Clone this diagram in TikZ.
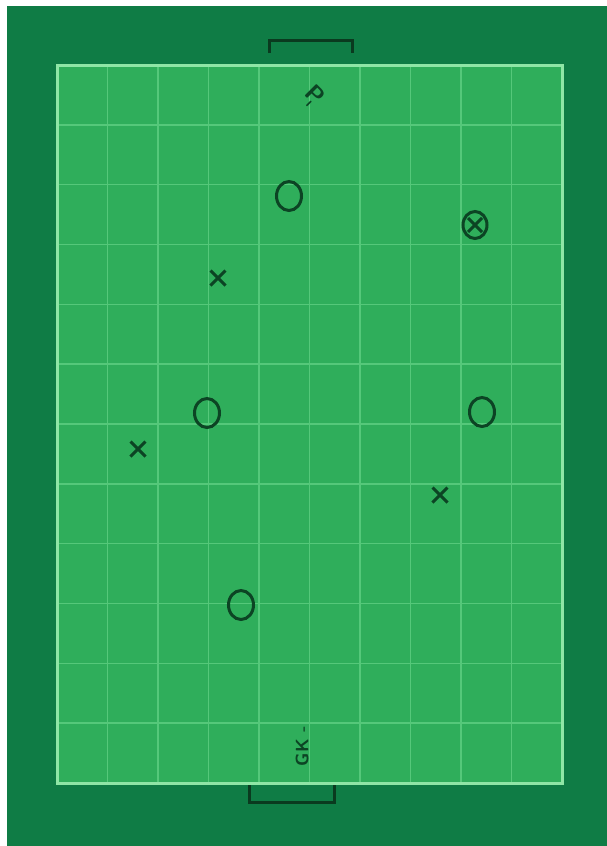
\documentclass[tikz,border=0pt]{standalone}
\usetikzlibrary{shapes.geometric,shapes.misc}
\definecolor{outergreen}{HTML}{0F7C45}
\definecolor{fieldgreen}{HTML}{2FAE5B}
\definecolor{fieldborder}{HTML}{8FE6A6}
\definecolor{gridgreen}{HTML}{55C87A}
\definecolor{markgreen}{HTML}{0C4424}
\tikzset{
  plo/.style={ellipse, draw=markgreen, line width=3pt, minimum width=25pt, minimum height=29pt, inner sep=0pt},
  plx/.style={cross out, draw=markgreen, line width=3pt, minimum size=12pt, inner sep=0pt},
  goalline/.style={draw=markgreen!85!black, line width=3pt},
  gridline/.style={draw=gridgreen, line width=1.4pt},
  marktext/.style={text=markgreen, inner sep=0pt}
}
\begin{document}
\begin{tikzpicture}[x=1pt,y=-1pt]
\useasboundingbox (0,0) rectangle (607,846);
\fill[white] (0,0) rectangle (607,846);
\fill[outergreen] (7,6) rectangle (607,846);
% field
\fill[fieldgreen] (57,65) rectangle (562,783);
\foreach \i in {1,...,9} {
  \draw[gridline] ({57+50.5*\i},66) -- ({57+50.5*\i},782);
}
\foreach \j in {1,...,11} {
  \draw[gridline] (58,{65+59.83*\j}) -- (561,{65+59.83*\j});
}
\draw[draw=fieldborder, line width=3pt] (57,65) rectangle (562,783);
% goals
\draw[goalline] (269,53) -- (269,40) -- (352,40) -- (352,53);
\draw[goalline] (249,785) -- (249,802) -- (334,802) -- (334,785);
% labels
\node[marktext, rotate=45, font={\fontsize{24}{24}\selectfont\sffamily\bfseries}] (ball) at (313,97) {-\kern-3pt\rotatebox[origin=c]{-90}{P}};
\node[marktext, rotate=90, font={\fontsize{18}{18}\selectfont\sffamily\bfseries}] (gk) at (302,746) {GK -};
% players O
\node[plo] (o1) at (289,196) {};
\node[plo] (o2) at (207,413) {};
\node[plo] (o3) at (482,412) {};
\node[plo] (o4) at (241,605) {};
\node[plo, minimum width=24pt, minimum height=27pt] (o5) at (475,225) {};
% players X
\node[plx] (x1) at (218,278) {};
\node[plx] (x2) at (138,449) {};
\node[plx] (x3) at (440,495) {};
\node[plx, minimum size=11pt] (x4) at (475,225) {};
\end{tikzpicture}
\end{document}
